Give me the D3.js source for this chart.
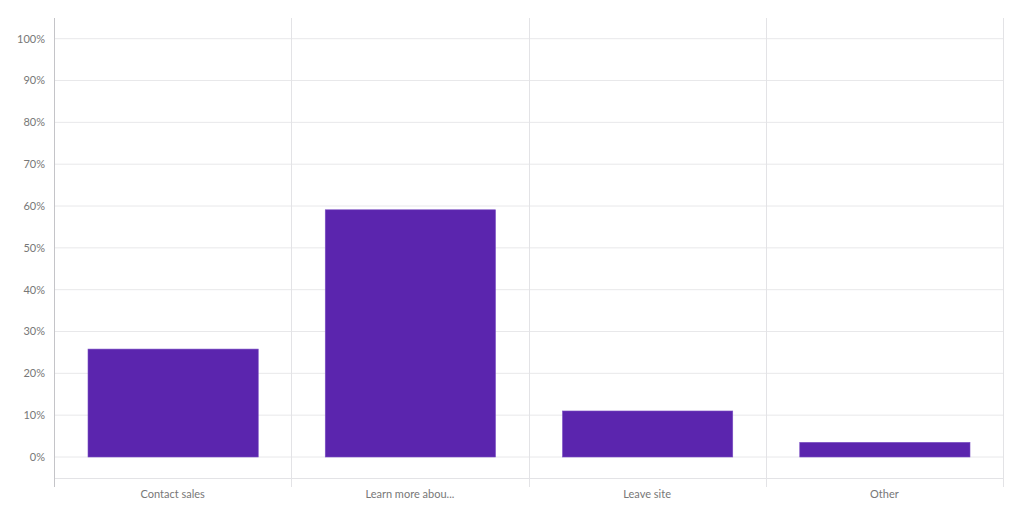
<!DOCTYPE html>
<html lang="en">
<head>
<meta charset="UTF-8">
<title>Chart</title>
<style>
  body { margin: 0; background: #fff; }
  text { font-family: Lato, "Open Sans", sans-serif; }
</style>
</head>
<body>
<script src="https://cdn.jsdelivr.net/npm/d3@7"></script>
<script>
  const categories = ['Contact sales', 'Learn more abou...', 'Leave site', 'Other'];
  const values = [25.8, 59.1, 11.0, 3.5];
  const yTicks = [0, 10, 20, 30, 40, 50, 60, 70, 80, 90, 100];

  const w = 1024;
  const h = 513;
  const plotLeft = 54, plotRight = 1003;
  const plotTop = 18, plotBottom = 487;

  const svg = d3.select('body')
    .append('svg')
    .attr('width', w)
    .attr('height', h);

  const xScale = d3.scaleBand()
    .domain(categories)
    .range([plotLeft, plotRight])
    .paddingInner(0)
    .paddingOuter(0);

  const yScale = d3.scaleLinear()
    .domain([0, 100])
    .range([457, 38.7]);

  // horizontal grid
  svg.selectAll('line.hgrid')
    .data(yTicks)
    .enter()
    .append('line')
    .attr('class', 'hgrid')
    .attr('x1', plotLeft)
    .attr('x2', plotRight)
    .attr('y1', d => yScale(d))
    .attr('y2', d => yScale(d))
    .attr('stroke', '#e8e8ea')
    .attr('stroke-width', 1);

  // bottom baseline of category area
  svg.append('line')
    .attr('x1', plotLeft).attr('x2', plotRight)
    .attr('y1', 478.5).attr('y2', 478.5)
    .attr('stroke', '#e3e3e6');

  // vertical category separators
  const seps = categories.map(c => xScale(c)).concat([plotRight]);
  svg.selectAll('line.vgrid')
    .data(seps.slice(1))
    .enter()
    .append('line')
    .attr('class', 'vgrid')
    .attr('x1', d => Math.round(d) + 0.5)
    .attr('x2', d => Math.round(d) + 0.5)
    .attr('y1', plotTop)
    .attr('y2', plotBottom)
    .attr('stroke', '#e3e3e6');

  // left axis line
  svg.append('line')
    .attr('x1', plotLeft + 0.5).attr('x2', plotLeft + 0.5)
    .attr('y1', plotTop).attr('y2', plotBottom)
    .attr('stroke', '#c4c4c8');

  // y tick labels
  svg.selectAll('text.ytick')
    .data(yTicks)
    .enter()
    .append('text')
    .attr('class', 'ytick')
    .attr('x', 45)
    .attr('y', d => yScale(d))
    .attr('dy', '0.35em')
    .attr('text-anchor', 'end')
    .attr('font-size', '11px')
    .attr('fill', '#777')
    .text(d => d + '%');

  // bars
  const barPad = 34;
  svg.selectAll('rect.bar')
    .data(values)
    .enter()
    .append('rect')
    .attr('class', 'bar')
    .attr('x', (d, i) => xScale(categories[i]) + barPad)
    .attr('width', xScale.bandwidth() - barPad * 2 + 1)
    .attr('y', d => yScale(d))
    .attr('height', d => yScale(0) - yScale(d))
    .attr('fill', '#5b25ae')
    .attr('stroke', '#7a4fc4')
    .attr('stroke-width', 0.6);

  // category labels
  svg.selectAll('text.xlabel')
    .data(categories)
    .enter()
    .append('text')
    .attr('class', 'xlabel')
    .attr('x', d => xScale(d) + xScale.bandwidth() / 2)
    .attr('y', 498)
    .attr('text-anchor', 'middle')
    .attr('font-size', '11px')
    .attr('fill', '#777')
    .text(d => d);
</script>
</body>
</html>
